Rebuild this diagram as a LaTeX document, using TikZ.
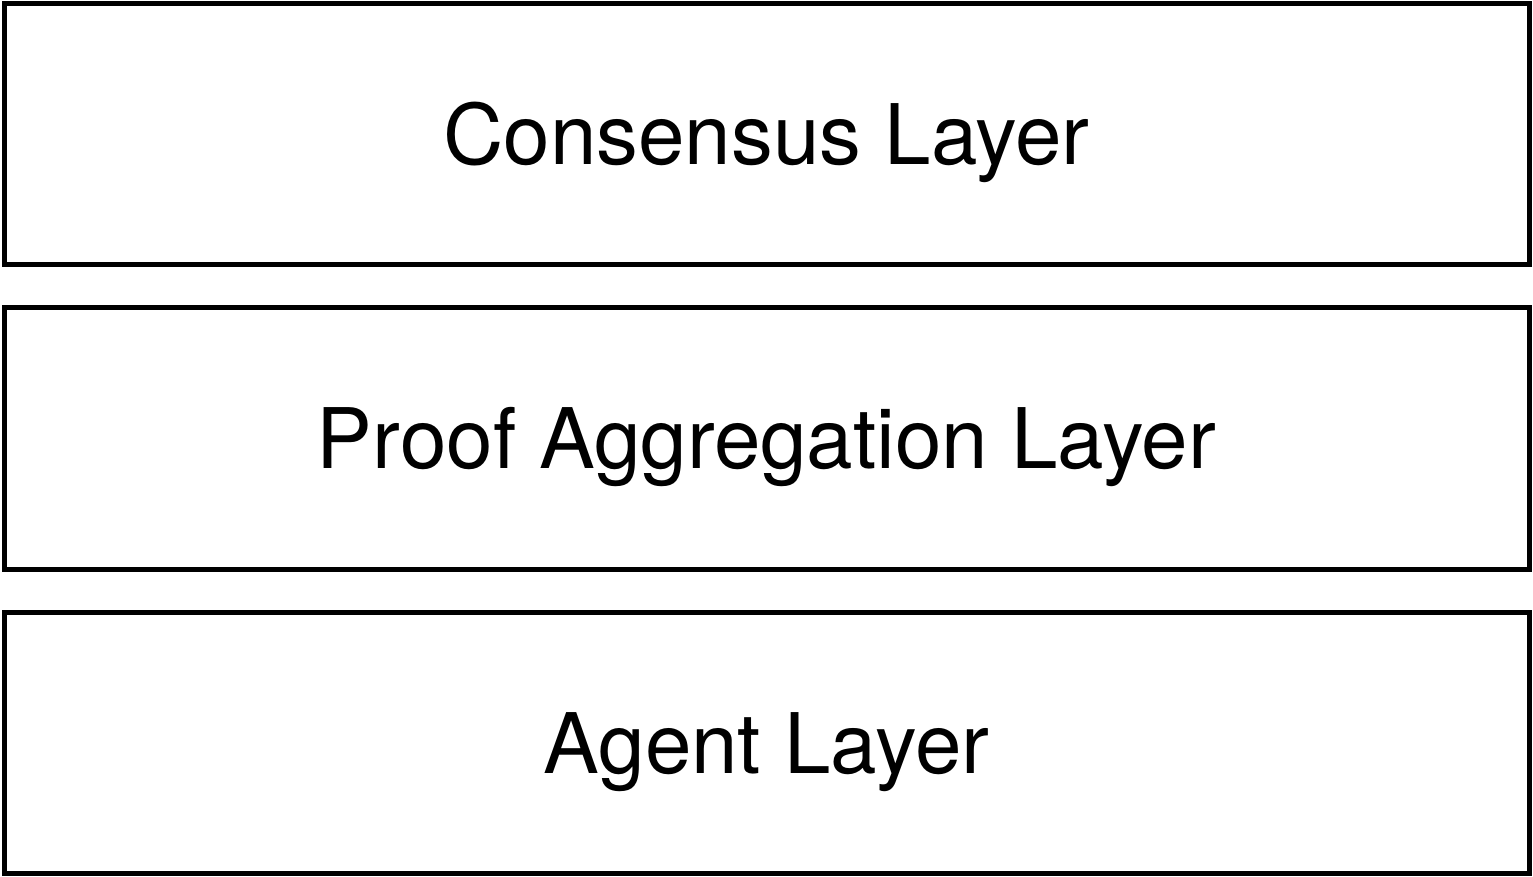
\documentclass[tikz,border=0pt]{standalone}
\usepackage{fontspec}
\setmainfont{TeX Gyre Heros}
\begin{document}
\begin{tikzpicture}[x=1pt,y=-1pt,
  layerbox/.style={draw=black, line width=2.5pt, rectangle,
    minimum width=762.5pt, minimum height=130.5pt,
    inner sep=0pt, text height=30pt, text depth=0pt,
    font=\fontsize{41.8}{50}\selectfont}]
\useasboundingbox (0,0) rectangle (766.5,438.5);
\node[layerbox] (consensus) at (383.25,67.25) {Consensus Layer};
\node[layerbox] (proof) at (383.25,219.25) {Proof Aggregation Layer};
\node[layerbox] (agent) at (383.25,371.5) {Agent Layer};
\end{tikzpicture}
\end{document}
